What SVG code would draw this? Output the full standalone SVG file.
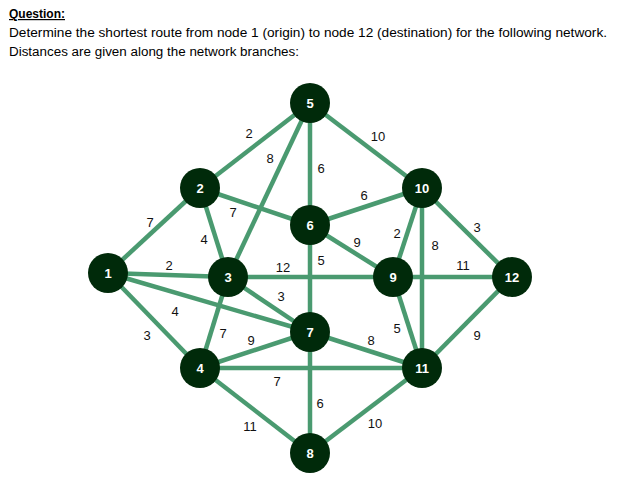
<svg xmlns="http://www.w3.org/2000/svg" width="617" height="484" viewBox="0 0 617 484">
<style>
.h{font-family:"Liberation Sans",Arial,sans-serif;font-size:12px;fill:#000}
.e line{stroke:#4a9a70;stroke-width:4.5}
.n circle{fill:#002a0a}
.n text{font-family:"Liberation Sans",Arial,sans-serif;font-size:13px;font-weight:bold;fill:#fff;text-anchor:middle;dominant-baseline:central}
.l text{font-family:"Liberation Sans",Arial,sans-serif;font-size:13px;fill:#111;text-anchor:middle;dominant-baseline:central}
</style>
<rect width="617" height="484" fill="#fff"/>
<text class="h" x="9" y="18" font-weight="bold" text-decoration="underline">Question:</text>
<text class="h" x="9" y="37" textLength="598" lengthAdjust="spacingAndGlyphs">Determine the shortest route from node 1 (origin) to node 12 (destination) for the following network.</text>
<text class="h" x="9" y="56" textLength="290" lengthAdjust="spacingAndGlyphs">Distances are given along the network branches:</text>
<g class="e" id="connectors">
<line x1="108" y1="273" x2="200" y2="188"/>
<line x1="108" y1="273" x2="228" y2="277"/>
<line x1="108" y1="273" x2="310" y2="332"/>
<line x1="108" y1="273" x2="200" y2="368"/>
<line x1="200" y1="188" x2="310" y2="103"/>
<line x1="200" y1="188" x2="310" y2="225"/>
<line x1="200" y1="188" x2="228" y2="277"/>
<line x1="228" y1="277" x2="310" y2="103"/>
<line x1="228" y1="277" x2="393" y2="277"/>
<line x1="228" y1="277" x2="310" y2="332"/>
<line x1="228" y1="277" x2="200" y2="368"/>
<line x1="200" y1="368" x2="310" y2="332"/>
<line x1="200" y1="368" x2="422" y2="368"/>
<line x1="200" y1="368" x2="310" y2="453"/>
<line x1="310" y1="103" x2="310" y2="225"/>
<line x1="310" y1="103" x2="422" y2="188"/>
<line x1="310" y1="225" x2="422" y2="188"/>
<line x1="310" y1="225" x2="393" y2="277"/>
<line x1="310" y1="225" x2="310" y2="332"/>
<line x1="310" y1="332" x2="310" y2="453"/>
<line x1="310" y1="332" x2="422" y2="368"/>
<line x1="393" y1="277" x2="422" y2="188"/>
<line x1="393" y1="277" x2="422" y2="368"/>
<line x1="393" y1="277" x2="512" y2="277"/>
<line x1="422" y1="188" x2="422" y2="368"/>
<line x1="422" y1="188" x2="512" y2="277"/>
<line x1="422" y1="368" x2="512" y2="277"/>
<line x1="422" y1="368" x2="310" y2="453"/>
</g>
<g class="l" id="labels">
<text x="249" y="133">2</text><text x="270" y="158">8</text><text x="321" y="168">6</text><text x="378" y="136">10</text>
<text x="364" y="195">6</text><text x="233" y="212">7</text><text x="204" y="239">4</text><text x="150" y="222">7</text>
<text x="169" y="265">2</text><text x="283" y="267">12</text><text x="321" y="260">5</text><text x="357" y="242">9</text>
<text x="397" y="233">2</text><text x="435" y="245">8</text><text x="477" y="227">3</text><text x="463" y="265">11</text>
<text x="175" y="311">4</text><text x="147" y="335">3</text><text x="281" y="296">3</text><text x="223" y="333">7</text>
<text x="251" y="340">9</text><text x="371" y="340">8</text><text x="397" y="328">5</text><text x="477" y="335">9</text>
<text x="277" y="381">7</text><text x="320" y="403">6</text><text x="250" y="426">11</text><text x="375" y="423">10</text>
</g>
<g class="n" id="n1"><circle cx="108" cy="273" r="20"/><text x="108" y="273">1</text></g>
<g class="n" id="n2"><circle cx="200" cy="188" r="20"/><text x="200" y="188">2</text></g>
<g class="n" id="n3"><circle cx="228" cy="277" r="20"/><text x="228" y="277">3</text></g>
<g class="n" id="n4"><circle cx="200" cy="368" r="20"/><text x="200" y="368">4</text></g>
<g class="n" id="n5"><circle cx="310" cy="103" r="20"/><text x="310" y="103">5</text></g>
<g class="n" id="n6"><circle cx="310" cy="225" r="20"/><text x="310" y="225">6</text></g>
<g class="n" id="n7"><circle cx="310" cy="332" r="20"/><text x="310" y="332">7</text></g>
<g class="n" id="n8"><circle cx="310" cy="453" r="20"/><text x="310" y="453">8</text></g>
<g class="n" id="n9"><circle cx="393" cy="277" r="20"/><text x="393" y="277">9</text></g>
<g class="n" id="n10"><circle cx="422" cy="188" r="20"/><text x="422" y="188">10</text></g>
<g class="n" id="n11"><circle cx="422" cy="368" r="20"/><text x="422" y="368">11</text></g>
<g class="n" id="n12"><circle cx="512" cy="277" r="20"/><text x="512" y="277">12</text></g>
</svg>
